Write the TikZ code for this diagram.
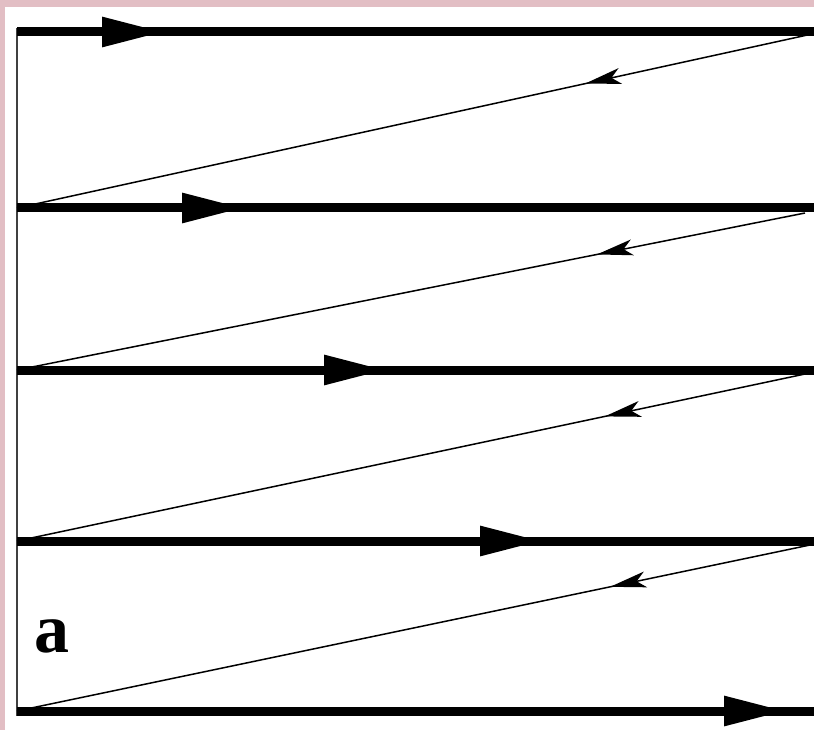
\documentclass[tikz,border=0pt]{standalone}
\usepackage{fontspec}
\setmainfont{Liberation Serif}
\usetikzlibrary{arrows.meta,decorations.markings}
\definecolor{framepink}{RGB}{226,190,196}
\tikzset{
  thickline/.style={line width=9pt, black},
  thinline/.style={line width=1.5pt, black},
  thickmark/.style={postaction={decorate}, decoration={markings,
     mark=at position #1 with {\arrow{Triangle[length=62pt,width=28pt]}}}},
  thinmark/.style={postaction={decorate}, decoration={markings,
     mark=at position #1 with {\arrow{Stealth[length=36pt,width=16pt,inset=9pt]}}}},
  axisline/.style={line width=2pt, black!75},
  lab/.style={font=\fontsize{70}{70}\selectfont\bfseries, inner sep=0pt}
}
\begin{document}
\begin{tikzpicture}[x=1pt,y=-1pt]
\useasboundingbox (0,0) rectangle (814,730);
\fill[framepink] (0,0) rectangle (814,730);
\fill[white] (5,7) rectangle (814,730);
% endpoints
\coordinate (L1) at (17,32);  \coordinate (R1) at (814,32);
\coordinate (L2) at (17,208); \coordinate (R2) at (814,208);
\coordinate (L3) at (17,370); \coordinate (R3) at (814,370);
\coordinate (L4) at (17,541); \coordinate (R4) at (814,541);
\coordinate (L5) at (17,711); \coordinate (R5) at (814,711);
\coordinate (D1) at (812,34);
\coordinate (D2) at (805,213);
\coordinate (D3) at (805,374);
\coordinate (D4) at (810,545);
\coordinate (T) at (17,28); \coordinate (B) at (17,716);
% vertical axis
\draw[axisline] (T) -- (B);
% thick lines
\draw[thickline, thickmark=147pt] (L1) -- (R1);
\draw[thickline, thickmark=227pt] (L2) -- (R2);
\draw[thickline, thickmark=369pt] (L3) -- (R3);
\draw[thickline, thickmark=525pt] (L4) -- (R4);
\draw[thickline, thickmark=769pt] (L5) -- (R5);
% thin return lines
\draw[thinline, thinmark=0.2855] (D1) -- (L2);
\draw[thinline, thinmark=0.264] (D2) -- (L3);
\draw[thinline, thinmark=0.254] (D3) -- (L4);
\draw[thinline, thinmark=0.252] (D4) -- (L5);
% label
\node[lab] (a) at (52,636) {a};
\end{tikzpicture}
\end{document}
